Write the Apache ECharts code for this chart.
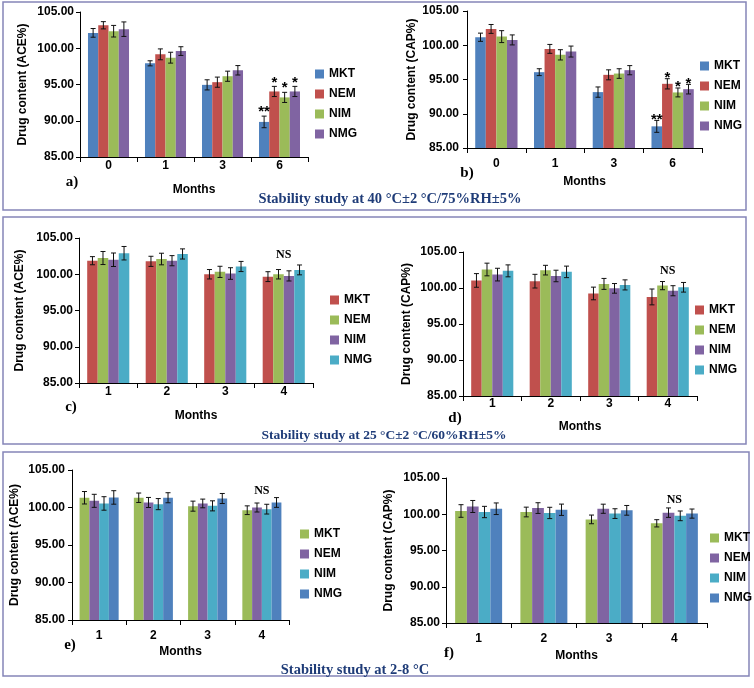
<!DOCTYPE html>
<html><head><meta charset="utf-8">
<script src="https://cdn.jsdelivr.net/npm/echarts@6/dist/echarts.min.js"></script>
<style>html,body{margin:0;padding:0;background:#fff}#c{width:754px;height:688px}</style>
</head><body><div id="c"></div>
<script>
// ---------- DATA ----------
const seriesNames = ['MKT', 'NEM', 'NIM', 'NMG'];
const monthsAB = ['0', '1', '3', '6'];
const monthsCF = ['1', '2', '3', '4'];
const yMin = 85, yMax = 105, yStep = 5;

// a) ACE%, 40 °C
const aMean = [[102.12, 97.92, 94.95, 89.84], [103.17, 99.16, 95.32, 94.04], [102.35, 98.70, 96.14, 93.22], [102.63, 99.61, 96.96, 94.04]];
const aErr  = [[0.60, 0.35, 0.70, 0.80], [0.50, 0.75, 0.70, 0.70], [0.80, 0.75, 0.70, 0.70], [1.00, 0.60, 0.65, 0.70]];
const aMarks = [['', '', '', '**'], ['', '', '', '*'], ['', '', '', '*'], ['', '', '', '*']];
// b) CAP%, 40 °C
const bMean = [[101.17, 96.07, 93.16, 88.16], [102.38, 99.47, 95.68, 94.37], [101.26, 98.60, 95.87, 93.11], [100.78, 99.08, 96.36, 93.59]];
const bErr  = [[0.60, 0.50, 0.75, 0.87], [0.65, 0.65, 0.73, 0.75], [0.87, 0.75, 0.70, 0.65], [0.73, 0.80, 0.67, 0.70]];
const bMarks = [['', '', '', '**'], ['', '', '', '*'], ['', '', '', '*'], ['', '', '', '*']];
// c) ACE%, 25 °C
const cMean = [[101.87, 101.78, 100.00, 99.67], [102.24, 102.10, 100.33, 100.00], [102.00, 101.87, 100.10, 99.77], [102.90, 102.80, 101.07, 100.60]];
const cErr  = [[0.56, 0.70, 0.65, 0.68], [0.90, 0.80, 0.77, 0.65], [0.93, 0.70, 0.80, 0.70], [0.93, 0.70, 0.70, 0.68]];
// d) CAP%, 25 °C
const dMean = [[101.05, 100.95, 99.24, 98.76], [102.57, 102.48, 100.57, 100.33], [101.86, 101.67, 99.95, 99.62], [102.38, 102.24, 100.43, 100.10]];
const dErr  = [[0.95, 0.95, 0.88, 1.10], [0.88, 0.67, 0.76, 0.57], [0.88, 0.80, 0.67, 0.70], [0.83, 0.80, 0.70, 0.67]];
// e) ACE%, 2-8 °C
const eMean = [[101.30, 101.30, 100.18, 99.64], [100.89, 100.67, 100.54, 100.00], [100.54, 100.45, 100.22, 99.78], [101.34, 101.30, 101.20, 100.67]];
const eErr  = [[0.83, 0.63, 0.67, 0.58], [0.87, 0.67, 0.58, 0.60], [0.90, 0.74, 0.67, 0.65], [0.90, 0.67, 0.67, 0.65]];
// f) CAP%, 2-8 °C
const fMean = [[100.45, 100.31, 99.29, 98.75], [101.07, 100.85, 100.76, 100.22], [100.31, 100.18, 100.09, 99.78], [100.76, 100.62, 100.54, 100.09]];
const fErr  = [[0.87, 0.67, 0.60, 0.50], [0.83, 0.74, 0.63, 0.65], [0.78, 0.78, 0.67, 0.67], [0.80, 0.78, 0.67, 0.63]];
const nsMarks = ['', '', '', 'NS'];

// ---------- STYLE / LAYOUT ----------
const SANS = 'Liberation Sans, Arial, sans-serif';
const SERIF = 'Liberation Serif, Times New Roman, serif';
const GAP = 0.28;
const colAB = ['#4F81BD', '#C0504D', '#9BBB59', '#8064A2'];
const colCD = ['#C0504D', '#9BBB59', '#8064A2', '#4BACC6'];
const colEF = ['#9BBB59', '#8064A2', '#4BACC6', '#4F81BD'];

const panels = [
  {mean: aMean, err: aErr, marks: aMarks, ns: null, cats: monthsAB, colors: colAB, yt: 'Drug content (ACE%)',
   grid: {left: 80, top: 12, width: 228, height: 145}, xm: 3, xg: 27, ym: 6, yg: 51, lg: {left: 315, top: 67}, starGap: 4},
  {mean: bMean, err: bErr, marks: bMarks, ns: null, cats: monthsAB, colors: colAB, yt: 'Drug content (CAP%)',
   grid: {left: 467, top: 11, width: 235, height: 137}, xm: 10, xg: 28, ym: 8, yg: 49, lg: {left: 700, top: 59}, starGap: 1},
  {mean: cMean, err: cErr, marks: null, ns: nsMarks, cats: monthsCF, colors: colCD, yt: 'Drug content (ACE%)',
   grid: {left: 79, top: 238, width: 234, height: 145}, xm: 3, xg: 27, ym: 6, yg: 53, lg: {left: 330, top: 293}, nsGap: 10},
  {mean: dMean, err: dErr, marks: null, ns: nsMarks, cats: monthsCF, colors: colCD, yt: 'Drug content (CAP%)',
   grid: {left: 463, top: 252, width: 234, height: 144}, xm: 2, xg: 25, ym: 6, yg: 50, lg: {left: 695, top: 303}, nsGap: 10.5},
  {mean: eMean, err: eErr, marks: null, ns: nsMarks, cats: monthsCF, colors: colEF, yt: 'Drug content (ACE%)',
   grid: {left: 72, top: 470, width: 217, height: 150}, xm: 10, xg: 26, ym: 7, yg: 51, lg: {left: 300, top: 527}, nsGap: 7},
  {mean: fMean, err: fErr, marks: null, ns: nsMarks, cats: monthsCF, colors: colEF, yt: 'Drug content (CAP%)',
   grid: {left: 446, top: 478, width: 261, height: 145}, xm: 10, xg: 27, ym: 6, yg: 51, lg: {left: 710, top: 531}, nsGap: 8}
];

const grids = [], xAxes = [], yAxes = [], series = [], legends = [];
panels.forEach((p, gi) => {
  grids.push(Object.assign({containLabel: false}, p.grid));
  xAxes.push({
    type: 'category', gridIndex: gi, data: p.cats, name: 'Months', nameLocation: 'middle', nameGap: p.xg,
    nameTextStyle: {fontFamily: SANS, fontWeight: 'bold', fontSize: 12, color: '#000'},
    axisLine: {lineStyle: {color: '#000', width: 1}},
    axisTick: {show: true, length: 5, lineStyle: {color: '#000'}},
    axisLabel: {margin: p.xm, fontFamily: SANS, fontWeight: 'bold', fontSize: 12, color: '#000'},
    splitLine: {show: false}
  });
  yAxes.push({
    type: 'value', gridIndex: gi, min: yMin, max: yMax, interval: yStep,
    name: p.yt, nameLocation: 'middle', nameGap: p.yg,
    nameTextStyle: {fontFamily: SANS, fontWeight: 'bold', fontSize: 12, color: '#000'},
    axisLine: {show: true, lineStyle: {color: '#000', width: 1}},
    axisTick: {show: true, length: 4, lineStyle: {color: '#000'}},
    axisLabel: {margin: p.ym, fontFamily: SANS, fontWeight: 'bold', fontSize: 12, color: '#000',
      formatter: v => v.toFixed(2)},
    splitLine: {show: false}
  });
  seriesNames.forEach((n, s) => {
    series.push({
      type: 'bar', name: n, xAxisIndex: gi, yAxisIndex: gi, data: p.mean[s],
      barGap: '0%', barCategoryGap: (GAP * 100) + '%', itemStyle: {color: p.colors[s]}, silent: true
    });
  });
  const data = [];
  for (let s = 0; s < 4; s++) for (let c = 0; c < 4; c++) data.push([c, p.mean[s][c], p.err[s][c], s]);
  series.push({
    type: 'custom', xAxisIndex: gi, yAxisIndex: gi, z: 10, silent: true, clip: false,
    data: data,
    renderItem: function (params, api) {
      const c = api.value(0), m = api.value(1), e = api.value(2), s = api.value(3);
      const band = api.size([1, 0])[0];
      const bw = band * (1 - GAP) / 4;
      const cc = api.coord([c, m])[0];
      const cx = cc + (s - 1.5) * bw;
      const yt = api.coord([c, m + e])[1], yb = api.coord([c, m - e])[1];
      const ls = {stroke: '#111', lineWidth: 1};
      const ch = [
        {type: 'line', shape: {x1: cx, y1: yt, x2: cx, y2: yb}, style: ls},
        {type: 'line', shape: {x1: cx - 2.5, y1: yt, x2: cx + 2.5, y2: yt}, style: ls},
        {type: 'line', shape: {x1: cx - 2.5, y1: yb, x2: cx + 2.5, y2: yb}, style: ls}
      ];
      const mk = p.marks ? p.marks[s][c] : '';
      if (mk) ch.push({type: 'text', style: {text: mk, x: cx, y: yt - p.starGap, align: 'center', verticalAlign: 'middle',
        font: 'bold 15px ' + SANS, fill: '#000'}});
      if (s === 3 && p.ns && p.ns[c]) {
        let top = -Infinity;
        for (let k = 0; k < 4; k++) top = Math.max(top, p.mean[k][c] + p.err[k][c]);
        ch.push({type: 'text', style: {text: p.ns[c], x: cc, y: api.coord([c, top])[1] - p.nsGap, align: 'center',
          verticalAlign: 'middle', font: 'bold 12px ' + SERIF, fill: '#000'}});
      }
      return {type: 'group', children: ch};
    }
  });
  legends.push({
    left: p.lg.left, top: p.lg.top, orient: 'vertical', itemWidth: 9, itemHeight: 9, itemGap: 6, padding: 0,
    icon: 'rect', selectedMode: false,
    textStyle: {fontFamily: SANS, fontWeight: 'bold', fontSize: 12, color: '#000', lineHeight: 14},
    data: seriesNames.map((n, i) => ({name: n, itemStyle: {color: p.colors[i]}}))
  });
});

const boxStyle = {fill: 'none', stroke: '#8585B8', lineWidth: 1.5};
const cap = (t, x, y, fs) => ({type: 'text', x: x, y: y, style: {text: t, font: 'bold ' + fs + 'px ' + SERIF, fill: '#1F3C78', align: 'center', verticalAlign: 'middle'}});
const lab = (t, x, y) => ({type: 'text', x: x, y: y, style: {text: t, font: 'bold 15px ' + SERIF, fill: '#000', align: 'center', verticalAlign: 'middle'}});
const graphic = [
  {type: 'rect', shape: {x: 3, y: 2, width: 743, height: 208}, style: boxStyle, silent: true},
  {type: 'rect', shape: {x: 3, y: 217, width: 743, height: 227}, style: boxStyle, silent: true},
  {type: 'rect', shape: {x: 3, y: 452, width: 746, height: 224}, style: boxStyle, silent: true},
  cap('Stability study at 40 °C±2 °C/75%RH±5%', 390, 199, 14.5),
  cap('Stability study at 25 °C±2 °C/60%RH±5%', 384, 436, 13.5),
  cap('Stability study at 2-8 °C', 355, 670, 14.5),
  lab('a)', 72, 182), lab('b)', 467, 173), lab('c)', 71, 407), lab('d)', 455, 418), lab('e)', 70, 645), lab('f)', 449, 653)
];

const chart = echarts.init(document.getElementById('c'), null, {renderer: 'canvas'});
chart.setOption({
  animation: false, backgroundColor: '#fff',
  grid: grids, xAxis: xAxes, yAxis: yAxes, series: series, legend: legends, graphic: graphic
});
</script>
</body></html>
